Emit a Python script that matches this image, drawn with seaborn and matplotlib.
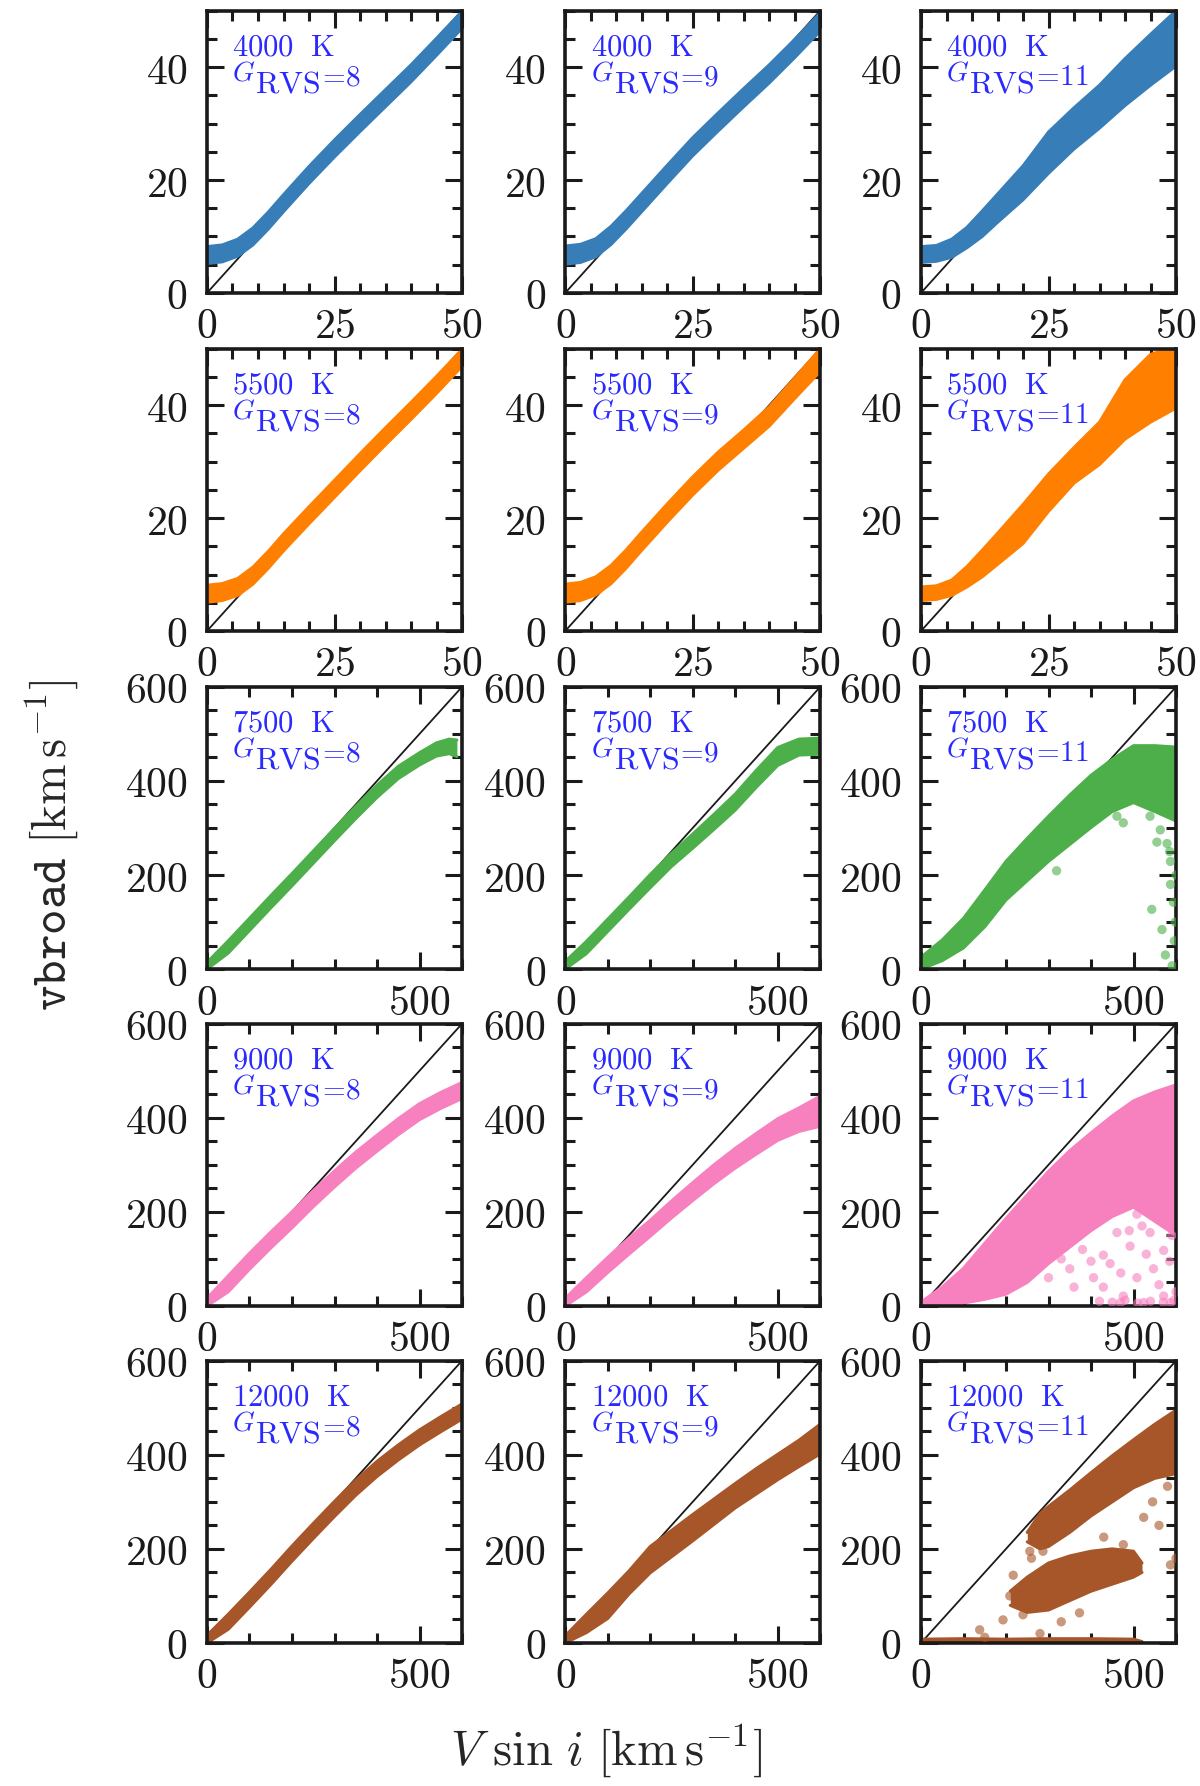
import numpy as np
import pandas as pd
import matplotlib
matplotlib.use("Agg")
import matplotlib.pyplot as plt
import seaborn as sns
from matplotlib.ticker import MultipleLocator, FuncFormatter

# colours per temperature row
row_colors = ["#377eb8", "#ff7f00", "#4daf4a", "#f781bf", "#a65628"]
temps = ["4000", "5500", "7500", "9000", "12000"]
grvs = ["8", "9", "11"]

# band knots for the slow rotators (rows 1-2), x in km/s
x_slow = [0, 3, 6, 9, 12, 15, 20, 25, 30, 35, 40, 45, 50]
# band knots for the fast rotators (rows 3-5)
x_fast = [0, 50, 100, 150, 200, 250, 300, 350, 400, 450, 500, 550, 600]

# 4000 K
t4000_g8_lo = [5.2, 5.5, 6.5, 8.5, 11.3, 14.4, 19.4, 24.1, 28.6, 33.0, 37.4, 42.1, 46.9]
t4000_g8_hi = [8.2, 8.5, 9.5, 11.5, 14.3, 17.4, 22.4, 27.1, 31.6, 36.0, 40.4, 45.1, 49.9]
t4000_g9_lo = [5.1, 5.4, 6.4, 8.6, 11.4, 14.4, 19.4, 24.3, 28.7, 33.0, 37.2, 41.7, 46.4]
t4000_g9_hi = [8.3, 8.6, 9.6, 11.8, 14.6, 17.6, 22.6, 27.5, 31.9, 36.2, 40.4, 44.9, 49.6]
t4000_g11_lo = [5.4, 5.6, 6.3, 8.0, 10.0, 12.5, 16.5, 21.2, 25.5, 29.2, 33.2, 36.8, 40.2]
t4000_g11_hi = [8.2, 8.4, 9.5, 11.6, 14.5, 17.5, 22.5, 28.5, 32.8, 36.8, 41.5, 45.8, 50.0]

# 5500 K
t5500_g8_lo = [5.1, 5.4, 6.3, 8.3, 11.1, 14.2, 19.0, 23.7, 28.4, 33.0, 37.5, 42.1, 46.9]
t5500_g8_hi = [8.1, 8.4, 9.3, 11.3, 14.1, 17.2, 22.0, 26.7, 31.4, 36.0, 40.5, 45.1, 49.9]
t5500_g9_lo = [5.1, 5.4, 6.4, 8.4, 11.2, 14.3, 19.3, 24.1, 28.5, 32.4, 36.3, 41.2, 46.0]
t5500_g9_hi = [8.3, 8.6, 9.6, 11.6, 14.4, 17.5, 22.5, 27.3, 31.7, 35.6, 39.7, 44.8, 50.0]
t5500_g11_lo = [5.4, 5.6, 6.3, 7.8, 9.6, 11.8, 15.5, 21.2, 26.2, 29.5, 34.0, 37.0, 39.5]
t5500_g11_hi = [7.8, 8.0, 9.0, 11.4, 14.3, 17.3, 22.4, 27.8, 32.5, 37.0, 44.5, 49.0, 50.5]

# 7500 K
t7500_g8_x = [0, 50, 100, 150, 200, 250, 300, 350, 400, 450, 500, 540, 570, 588]
t7500_g8_lo = [0, 34, 82, 130, 177, 225, 273, 320, 365, 405, 434, 453, 458, 452]
t7500_g8_hi = [14, 60, 108, 156, 203, 251, 299, 346, 391, 431, 460, 481, 489, 487]
t7500_g9_lo = [0, 33, 80, 127, 173, 218, 257, 297, 338, 387, 433, 455, 457]
t7500_g9_hi = [16, 59, 106, 153, 201, 246, 287, 329, 372, 423, 471, 489, 491]
t7500_g11_lo = [0, 18, 45, 90, 147, 188, 229, 265, 301, 335, 354, 335, 315]
t7500_g11_hi = [25, 62, 108, 168, 229, 278, 325, 370, 412, 446, 475, 475, 472]
t7500_g11_out_x = [543, 567, 587, 587, 579, 563, 591, 594, 539, 319, 461, 476, 596, 598, 585, 600, 575, 555]
t7500_g11_out_y = [127, 84, 180, 229, 267, 296, 7, 142, 325, 209, 325, 311, 60, 100, 250, 200, 30, 270]

# 9000 K
t9000_g8_lo = [0, 30, 78, 123, 166, 211, 253, 293, 329, 364, 396, 420, 441]
t9000_g8_hi = [16, 64, 112, 157, 200, 245, 287, 327, 363, 398, 430, 454, 475]
t9000_g9_lo = [0, 30, 71, 110, 148, 187, 224, 260, 293, 323, 352, 371, 382]
t9000_g9_hi = [16, 60, 103, 144, 182, 223, 262, 300, 335, 367, 398, 421, 446]
t9000_g11_lo = [0, 2, 6, 14, 25, 50, 90, 125, 160, 190, 210, 180, 150]
t9000_g11_hi = [8, 40, 80, 133, 186, 236, 286, 330, 368, 404, 436, 455, 470]
t9000_g11_out_x = [350, 406, 429, 476, 508, 547, 571, 587, 524, 469, 429, 461, 492, 539, 571,
                   555, 508, 420, 450, 480, 510, 540, 570, 595, 600, 380, 330, 590, 445, 530,
                   300, 360, 400, 470, 560, 585, 520, 490]
t9000_g11_out_y = [79, 60, 40, 21, 60, 79, 21, 7, 7, 7, 108, 156, 127, 156, 118,
                   204, 195, 10, 8, 12, 6, 10, 8, 12, 30, 120, 100, 150, 90, 110,
                   60, 40, 95, 70, 45, 95, 170, 160]

# 12000 K
t12000_g8_lo = [0, 29, 76, 124, 174, 222, 269, 314, 354, 389, 421, 449, 476]
t12000_g8_hi = [16, 61, 108, 156, 206, 254, 301, 346, 386, 421, 453, 481, 508]
t12000_g9_lo = [0, 22, 52, 104, 149, 183, 217, 252, 287, 317, 347, 375, 402]
t12000_g9_hi = [15, 61, 106, 153, 205, 239, 273, 306, 339, 371, 401, 431, 465]
t12000_g11_main_x = [250, 280, 300, 350, 400, 450, 500, 550, 600]
t12000_g11_main_lo = [215, 200, 205, 235, 270, 300, 330, 350, 360]
t12000_g11_main_hi = [235, 275, 290, 325, 362, 398, 432, 465, 495]
t12000_g11_low_x = [210, 250, 300, 350, 400, 450, 500, 520]
t12000_g11_low_lo = [80, 65, 70, 90, 110, 125, 140, 150]
t12000_g11_low_hi = [110, 140, 170, 185, 195, 200, 195, 170]
t12000_g11_base_x = [0, 100, 200, 300, 400, 500, 520]
t12000_g11_base_lo = [0, 0, 0, 0, 0, 0, 0]
t12000_g11_base_hi = [8, 9, 8, 9, 9, 8, 3]
t12000_g11_out_x = [287, 260, 217, 193, 138, 209, 256, 476, 587, 580, 524, 398, 373, 280, 600, 150, 560,
                    240, 330, 430, 545]
t12000_g11_out_y = [195, 180, 144, 49, 28, 100, 195, 209, 166, 333, 267, 122, 64, 20, 180, 12, 250,
                    60, 45, 225, 300]

panels = [
    [[(x_slow, t4000_g8_lo, t4000_g8_hi)], None],
    [[(x_slow, t4000_g9_lo, t4000_g9_hi)], None],
    [[(x_slow, t4000_g11_lo, t4000_g11_hi)], None],
    [[(x_slow, t5500_g8_lo, t5500_g8_hi)], None],
    [[(x_slow, t5500_g9_lo, t5500_g9_hi)], None],
    [[(x_slow, t5500_g11_lo, t5500_g11_hi)], None],
    [[(t7500_g8_x, t7500_g8_lo, t7500_g8_hi)], None],
    [[(x_fast, t7500_g9_lo, t7500_g9_hi)], None],
    [[(x_fast, t7500_g11_lo, t7500_g11_hi)], (t7500_g11_out_x, t7500_g11_out_y)],
    [[(x_fast, t9000_g8_lo, t9000_g8_hi)], None],
    [[(x_fast, t9000_g9_lo, t9000_g9_hi)], None],
    [[(x_fast, t9000_g11_lo, t9000_g11_hi)], (t9000_g11_out_x, t9000_g11_out_y)],
    [[(x_fast, t12000_g8_lo, t12000_g8_hi)], None],
    [[(x_fast, t12000_g9_lo, t12000_g9_hi)], None],
    [[(t12000_g11_main_x, t12000_g11_main_lo, t12000_g11_main_hi),
      (t12000_g11_low_x, t12000_g11_low_lo, t12000_g11_low_hi),
      (t12000_g11_base_x, t12000_g11_base_lo, t12000_g11_base_hi)],
     (t12000_g11_out_x, t12000_g11_out_y)],
]

sns.set_theme(style="ticks")
plt.rcParams["mathtext.fontset"] = "cm"
plt.rcParams["font.family"] = ["DejaVu Serif"]
plt.rcParams["axes.linewidth"] = 2.6


def draw_band(ax, x, lo, hi, color):
    d = pd.DataFrame({"x": list(x) + list(x), "y": list(lo) + list(hi)})
    sns.lineplot(data=d, x="x", y="y", estimator="mean", errorbar=("pi", 100),
                 color=color, linewidth=0, ax=ax,
                 err_kws={"alpha": 1.0, "linewidth": 0, "zorder": 2})
    # round off the band edges a little, like a cloud of markers
    for edge in (lo, hi):
        sns.lineplot(x=x, y=edge, color=color, linewidth=2.2, ax=ax,
                     zorder=2, solid_joinstyle="round", solid_capstyle="round")


fig = plt.figure(figsize=(12, 17.86), dpi=100)
lefts = [0.1725, 0.471, 0.7675]
bottoms = [0.836, 0.6467, 0.4574, 0.2688, 0.0801]
fmt = FuncFormatter(lambda v, p: f"${v:g}$")
blue = "#2a2aff"

for i, (bands, outl) in enumerate(panels):
    r, c = divmod(i, 3)
    ax = fig.add_axes([lefts[c], bottoms[r], 0.2125, 0.158])
    color = row_colors[r]
    for bx, blo, bhi in bands:
        draw_band(ax, bx, blo, bhi, color)
    if outl is not None:
        sns.scatterplot(x=outl[0], y=outl[1], color=color, alpha=0.6, s=45,
                        edgecolor="none", ax=ax, zorder=3)
    ax.axline((0, 0), slope=1, color="k", lw=1.3, zorder=1.5)
    lim = 50 if r < 2 else 600
    ax.set_xlim(0, lim)
    ax.set_ylim(0, lim)
    if r < 2:
        ax.xaxis.set_major_locator(MultipleLocator(25))
        ax.xaxis.set_minor_locator(MultipleLocator(5))
        ax.yaxis.set_major_locator(MultipleLocator(20))
        ax.yaxis.set_minor_locator(MultipleLocator(5))
    else:
        ax.xaxis.set_major_locator(MultipleLocator(500))
        ax.xaxis.set_minor_locator(MultipleLocator(100))
        ax.yaxis.set_major_locator(MultipleLocator(200))
        ax.yaxis.set_minor_locator(MultipleLocator(50))
    ax.xaxis.set_major_formatter(fmt)
    ax.yaxis.set_major_formatter(fmt)
    ax.tick_params(which="both", direction="in", top=True, right=True,
                   width=2.2, labelsize=30, colors="k")
    ax.tick_params(which="major", length=12)
    ax.tick_params(which="minor", length=7)
    ax.tick_params(axis="x", pad=9)
    ax.tick_params(axis="y", pad=14)
    ax.set_xlabel("")
    ax.set_ylabel("")
    for s in ax.spines.values():
        s.set_linewidth(2.6)
        s.set_color("k")
    ax.text(0.1, 0.841, r"$\mathrm{" + temps[r] + r"\ \ K}$", transform=ax.transAxes,
            color=blue, fontsize=22, va="baseline", ha="left")
    ax.text(0.1, 0.752, r"$G$", transform=ax.transAxes,
            color=blue, fontsize=20, va="baseline", ha="left")
    ax.text(0.19, 0.711, r"$\mathrm{RVS}$", transform=ax.transAxes,
            color=blue, fontsize=23, va="baseline", ha="left")
    ax.text(0.432, 0.736, r"$=\!" + grvs[c] + "$", transform=ax.transAxes,
            color=blue, fontsize=21, va="baseline", ha="left")

fig.text(0.043, 0.527, r"$\mathtt{vbroad}\ [\mathrm{km\,s^{-1}}]$", rotation=90,
         fontsize=35, ha="center", va="center")
fig.text(0.505, 0.02, r"$V\ \sin\,i\ [\mathrm{km\,s^{-1}}]$",
         fontsize=35, ha="center", va="center")

fig.savefig("out.png", dpi=100)
